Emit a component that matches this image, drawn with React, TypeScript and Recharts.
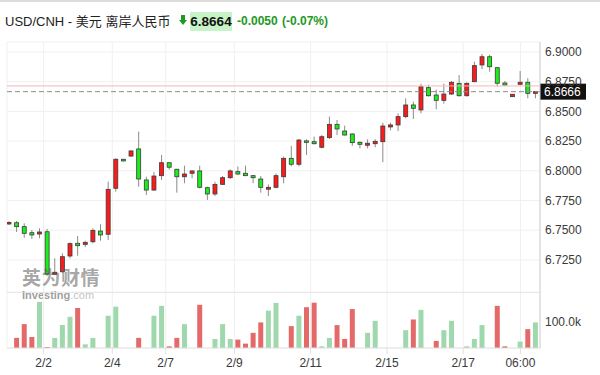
import React from "react";
import { ComposedChart, Bar, XAxis, YAxis, CartesianGrid, ReferenceLine, Cell } from "recharts";

// 行情数据（每根K线）
const opens = [
  6.7555, 6.7563, 6.753, 6.7479, 6.7468, 6.7487, 6.7129, 6.7151, 6.7283, 6.739,
  6.7381, 6.7403, 6.7493, 6.7466, 6.7853, 6.8097, 6.8124, 6.8184, 6.7923, 6.7838,
  6.7959, 6.8068, 6.8013, 6.795, 6.7979, 6.7999, 6.7858, 6.7805, 6.7886, 6.7942,
  6.7993, 6.7979, 6.7959, 6.7931, 6.7845, 6.7861, 6.795, 6.8105, 6.8055, 6.8252,
  6.8245, 6.8198, 6.8279, 6.8391, 6.8335, 6.831, 6.824, 6.8215, 6.8228, 6.8245,
  6.8369, 6.8386, 6.8456, 6.8554, 6.8512, 6.87, 6.8638, 6.8593, 6.8646, 6.8736,
  6.8632, 6.875, 6.8891, 6.896, 6.8868, 6.8739, 6.8624, 6.8728, 6.8745, 6.8652,
];
const highs = [
  6.7575, 6.7577, 6.7558, 6.7502, 6.7516, 6.751, 6.7263, 6.7306, 6.7398, 6.7451,
  6.7412, 6.7516, 6.755, 6.7908, 6.8105, 6.81, 6.8172, 6.8329, 6.795, 6.799,
  6.8133, 6.8072, 6.8016, 6.8043, 6.8002, 6.8043, 6.7866, 6.7908, 6.7956, 6.8013,
  6.8037, 6.8043, 6.7965, 6.7956, 6.7885, 6.7977, 6.812, 6.8209, 6.8268, 6.8265,
  6.8287, 6.8301, 6.8456, 6.8428, 6.838, 6.8316, 6.8248, 6.8265, 6.8265, 6.8405,
  6.8405, 6.8484, 6.861, 6.8582, 6.8733, 6.8725, 6.8684, 6.8733, 6.8756, 6.8806,
  6.8745, 6.8918, 6.8984, 6.8978, 6.887, 6.8756, 6.8645, 6.884, 6.8779, 6.8668,
];
const lows = [
  6.7545, 6.7485, 6.7437, 6.7426, 6.7432, 6.7115, 6.7123, 6.714, 6.7263, 6.7285,
  6.7359, 6.739, 6.7412, 6.7418, 6.7825, 6.8078, 6.812, 6.7866, 6.7796, 6.7832,
  6.7923, 6.801, 6.7816, 6.7895, 6.7937, 6.7853, 6.7754, 6.7788, 6.7882, 6.793,
  6.7964, 6.7955, 6.7896, 6.7816, 6.7788, 6.7853, 6.7895, 6.8038, 6.8038, 6.8133,
  6.8222, 6.8189, 6.8268, 6.8301, 6.8298, 6.8209, 6.8189, 6.8189, 6.8198, 6.8072,
  6.8341, 6.8335, 6.8442, 6.8436, 6.8484, 6.8624, 6.8518, 6.8565, 6.864, 6.8624,
  6.8624, 6.8745, 6.8857, 6.8834, 6.8708, 6.8718, 6.8622, 6.8725, 6.861, 6.861,
];
const closes = [
  6.7565, 6.753, 6.7474, 6.746, 6.7485, 6.7131, 6.7146, 6.7277, 6.7387, 6.737,
  6.7398, 6.7499, 6.746, 6.7844, 6.8097, 6.8083, 6.8167, 6.7931, 6.7838, 6.7956,
  6.8068, 6.803, 6.795, 6.7973, 6.7999, 6.7861, 6.7805, 6.7886, 6.7942, 6.7999,
  6.7973, 6.7959, 6.7942, 6.7861, 6.7861, 6.7959, 6.8105, 6.8055, 6.8259, 6.8248,
  6.8228, 6.8287, 6.8391, 6.8352, 6.8301, 6.8237, 6.8223, 6.8232, 6.8248, 6.8377,
  6.8386, 6.8456, 6.8554, 6.8526, 6.8708, 6.8632, 6.8593, 6.8646, 6.8745, 6.8632,
  6.8736, 6.8885, 6.896, 6.8876, 6.8737, 6.8722, 6.8644, 6.8745, 6.8652, 6.8666,
];
// 成交量（千）
const volumes = [
  0, 37.9, 89.6, 41.7, 173, 3.8, 37.9, 85.9, 117, 150,
  13.9, 37.9, 0, 121, 155, 0, 0, 37.9, 0, 121,
  158, 6.3, 37.9, 89.6, 0, 162, 0, 34, 89.6, 34,
  31.6, 16.4, 56.8, 96, 140, 169, 0, 82, 121, 153,
  170, 6.3, 37.9, 85.9, 34, 146, 0, 56.8, 102, 0,
  0, 0, 66.9, 107, 143, 0, 26.5, 66.9, 102, 0,
  6.3, 34, 85.9, 0, 158, 6.3, 0, 24, 70.7, 96,
];

const dateTicks = [5.5, 14.5, 21.5, 30.5, 40.5, 50.5, 60.5, 68];
const dateLabels = ["2/2", "2/4", "2/7", "2/9", "2/11", "2/15", "2/17", "06:00"];
const priceTicks = [6.725, 6.75, 6.775, 6.8, 6.825, 6.85, 6.875, 6.9];
const lastPrice = 6.8666;
const prevClose = 6.8714;

const data = opens.map((o, i) => ({
  idx: i + 1,
  open: o,
  high: highs[i],
  low: lows[i],
  close: closes[i],
  vol: volumes[i] * 1000,
}));

const FONT = "'Liberation Sans', Arial, 'Noto Sans CJK SC', sans-serif";
const X_DOMAIN: [number, number] = [0.7, 70.56];
const GREEN_TXT = "#1e9a1e";

const fmtDate = (v: number) => {
  const k = dateTicks.indexOf(v);
  return k >= 0 ? dateLabels[k] : "";
};

function Candle(props: any) {
  const { x, y, width, height, payload } = props;
  const { open, close, high, low } = payload;
  const top0 = height < 0 ? y + height : y;
  const h = Math.abs(height);
  const up = close >= open;
  const ratio = h / (high - low);
  const cx = x + width / 2;
  const bTop = top0 + (high - Math.max(open, close)) * ratio;
  const bH = Math.max(Math.abs(open - close) * ratio, 1.5);
  return (
    <g>
      <line x1={cx} x2={cx} y1={top0} y2={top0 + h} stroke="#8a8a8a" strokeWidth={1} />
      <rect
        x={x + 0.5}
        y={bTop}
        width={width - 1}
        height={bH}
        fill={up ? "#ff1a1a" : "#1aee1a"}
        stroke="#3a3a3a"
        strokeWidth={0.8}
      />
    </g>
  );
}

function PriceTag(props: any) {
  const vb = props.viewBox || {};
  const x = (vb.x || 0) + (vb.width || 0);
  const y = vb.y || 0;
  return (
    <g>
      <rect x={x} y={y - 8} width={46} height={16} fill="#111" />
      <text x={x + 4} y={y + 4.5} fill="#fff" fontSize={12} fontFamily={FONT}>
        {lastPrice.toFixed(4)}
      </text>
    </g>
  );
}

export default function App() {
  return (
    <div style={{ position: "absolute", left: 0, top: 0, width: 600, height: 375, background: "#fff", fontFamily: FONT, overflow: "hidden" }}>
      <div style={{ position: "absolute", left: 0, top: 0, width: 600, height: 2, background: "#dcdcdc" }} />
      {/* 标题 */}
      <div style={{ position: "absolute", left: 5, top: 12, fontSize: 13, color: "#222", whiteSpace: "nowrap", lineHeight: "19px" }}>
        USD/CNH - 美元 离岸人民币
      </div>
      <svg style={{ position: "absolute", left: 179, top: 15 }} width={8} height={11}>
        <rect x={2} y={0} width={4} height={5} fill={GREEN_TXT} />
        <polygon points="0,5 8,5 4,10" fill={GREEN_TXT} />
      </svg>
      <div style={{ position: "absolute", left: 190, top: 12, height: 19, width: 42, background: "#c8f2c8", fontSize: 13.5, fontWeight: "bold", color: "#111", lineHeight: "19px", textAlign: "center" }}>
        6.8664
      </div>
      <div style={{ position: "absolute", left: 237, top: 12, fontSize: 12, fontWeight: "bold", color: GREEN_TXT, lineHeight: "19px", whiteSpace: "nowrap" }}>
        -0.0050
      </div>
      <div style={{ position: "absolute", left: 282, top: 12, fontSize: 12, fontWeight: "bold", color: GREEN_TXT, lineHeight: "19px", whiteSpace: "nowrap" }}>
        (-0.07%)
      </div>

      {/* K线 */}
      <div style={{ position: "absolute", left: 0, top: 0 }}>
        <ComposedChart width={600} height={292} data={data} margin={{ top: 42, right: 0, left: 7, bottom: 0 }}>
          <CartesianGrid stroke="#f0f0f0" />
          <XAxis dataKey="idx" type="number" domain={X_DOMAIN} ticks={dateTicks} hide allowDataOverflow />
          <YAxis
            orientation="right"
            width={60}
            domain={[6.698, 6.9084]}
            ticks={priceTicks}
            allowDataOverflow
            tickFormatter={(v: number) => v.toFixed(4)}
            tick={{ fill: "#3a3a3a", fontSize: 12, fontFamily: FONT }}
            tickLine={false}
            tickSize={3}
            tickMargin={2}
            axisLine={{ stroke: "#d0d0d0" }}
          />
          <ReferenceLine y={prevClose} stroke="#f5b8b8" strokeWidth={1} />
          <Bar
            dataKey={(d: any) => [d.low, d.high]}
            barSize={5}
            shape={<Candle />}
            isAnimationActive={false}
          />
          <ReferenceLine y={lastPrice} stroke="#8c8c8c" strokeDasharray="5 3" label={<PriceTag />} />
        </ComposedChart>
      </div>

      {/* 水印 */}
      <div style={{ position: "absolute", left: 22, top: 268, fontSize: 19, fontWeight: "bold", color: "rgba(90,90,90,0.55)", letterSpacing: 0.5, lineHeight: "22px", whiteSpace: "nowrap" }}>
        英为财情
      </div>
      <div style={{ position: "absolute", left: 22, top: 289, fontSize: 11, lineHeight: "12px", whiteSpace: "nowrap" }}>
        <span style={{ fontWeight: "bold", color: "rgba(90,90,90,0.6)" }}>Investing</span>
        <span style={{ color: "rgba(150,150,150,0.6)" }}>.com</span>
      </div>

      {/* 成交量 */}
      <div style={{ position: "absolute", left: 0, top: 292 }}>
        <ComposedChart width={600} height={83} data={data} margin={{ top: 0, right: 0, left: 7, bottom: 0 }}>
          <CartesianGrid stroke="#f0f0f0" horizontal={false} />
          <XAxis
            dataKey="idx"
            type="number"
            domain={X_DOMAIN}
            ticks={dateTicks}
            allowDataOverflow
            height={27}
            tickFormatter={fmtDate}
            tick={{ fill: "#3a3a3a", fontSize: 12, fontFamily: FONT }}
            tickLine={{ stroke: "#e0e0e0" }}
            tickSize={6}
            tickMargin={4}
            axisLine={{ stroke: "#dcdcdc" }}
          />
          <YAxis
            orientation="right"
            width={60}
            domain={[0, 210000]}
            ticks={[100000]}
            allowDataOverflow
            tickFormatter={(v: number) => (v / 1000).toFixed(1) + "k"}
            tick={{ fill: "#3a3a3a", fontSize: 12, fontFamily: FONT }}
            tickLine={false}
            tickSize={3}
            tickMargin={2}
            axisLine={{ stroke: "#d0d0d0" }}
          />
          <ReferenceLine y={210000} stroke="#d4d4d4" />
          <Bar dataKey="vol" barSize={5} isAnimationActive={false}>
            {data.map((d, i) => (
              <Cell key={i} fill={d.close >= d.open ? "#9fd8ad" : "#e46a6a"} />
            ))}
          </Bar>
        </ComposedChart>
      </div>
    </div>
  );
}
